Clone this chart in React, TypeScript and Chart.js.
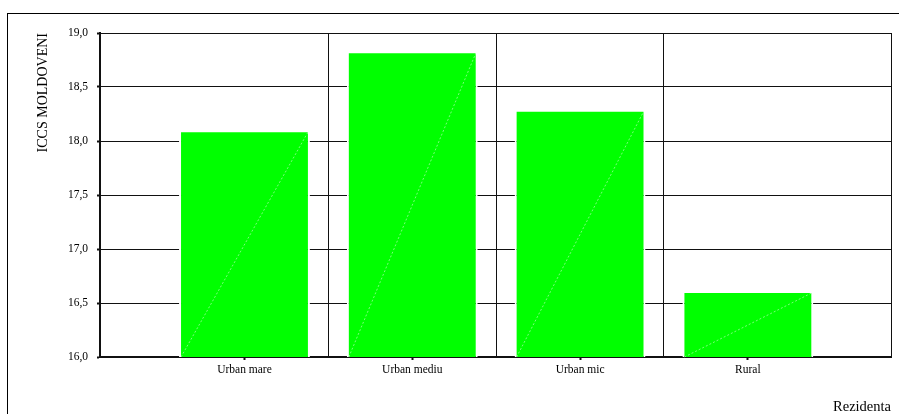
import React, { useEffect, useRef } from "react";
import { Chart, registerables } from "chart.js";

Chart.register(...registerables);

const categories = ["Urban mare", "Urban mediu", "Urban mic", "Rural"];
const values = [18.1, 18.83, 18.29, 16.61];
const yTicks = [16.0, 16.5, 17.0, 17.5, 18.0, 18.5, 19.0];
const yTitle = "ICCS MOLDOVENI";
const xTitle = "Rezidenta";

const FONT = "'Liberation Serif', 'Times New Roman', serif";
const X_MIN = -0.861;
const X_MAX = 3.853;

const diagonalPlugin = {
  id: "barDiagonal",
  afterDatasetsDraw(chart: any) {
    const ctx = chart.ctx;
    const meta = chart.getDatasetMeta(0);
    const bottom = chart.scales.y.getPixelForValue(yTicks[0]);
    ctx.save();
    ctx.strokeStyle = "rgba(255,255,255,0.6)";
    ctx.lineWidth = 0.8;
    ctx.setLineDash([2, 2]);
    meta.data.forEach((el: any) => {
      const left = el.x - el.width / 2 + 2;
      const right = el.x + el.width / 2 - 2;
      ctx.beginPath();
      ctx.moveTo(left, bottom);
      ctx.lineTo(right, el.y + 2);
      ctx.stroke();
    });
    ctx.restore();
  },
};

export default function App() {
  const ref = useRef<HTMLCanvasElement | null>(null);

  useEffect(() => {
    if (!ref.current) return;
    const isInt = (v: number) => Math.abs(v - Math.round(v)) < 1e-6 && v >= 0 && v <= categories.length - 1;
    const isSep = (v: number) => Math.abs(v - Math.round(v - 0.5) - 0.5) < 1e-6 || Math.abs(v - X_MAX) < 1e-6;
    const chart = new Chart(ref.current, {
      type: "bar",
      data: {
        datasets: [
          {
            data: values.map((v, i) => ({ x: i, y: v })),
            backgroundColor: "#00ff00",
            borderColor: "#ffffff",
            borderWidth: 2,
            categoryPercentage: 2,
            barPercentage: 0.78,
          },
        ],
      },
      options: {
        animation: false,
        responsive: false,
        devicePixelRatio: 1,
        layout: { padding: { left: 30, top: 33, right: 8, bottom: 0 } },
        plugins: { legend: { display: false }, tooltip: { enabled: false } },
        scales: {
          x: {
            type: "linear",
            offset: false,
            min: X_MIN,
            max: X_MAX,
            afterBuildTicks: (scale: any) => {
              const t: any[] = [{ value: X_MIN }];
              categories.forEach((_, i) => {
                t.push({ value: i });
                if (i < categories.length - 1) t.push({ value: i + 0.5 });
              });
              t.push({ value: X_MAX });
              scale.ticks = t;
            },
            afterFit: (scale: any) => {
              scale.height = 57;
            },
            ticks: {
              autoSkip: false,
              maxRotation: 0,
              padding: 3,
              color: "#000",
              font: { family: FONT, size: 11.5 },
              callback: (v: any) => (isInt(Number(v)) ? categories[Math.round(Number(v))] : ""),
            },
            grid: {
              offset: false,
              color: (c: any) => (c.tick && isSep(c.tick.value) ? "#111" : "rgba(0,0,0,0)"),
              tickColor: (c: any) => (c.tick && isInt(c.tick.value) ? "#111" : "rgba(0,0,0,0)"),
              lineWidth: 1,
              tickLength: 3,
              tickWidth: 2,
            },
            border: { display: true, color: "#111", width: 2 },
            title: {
              display: true,
              text: xTitle,
              align: "end",
              color: "#000",
              font: { family: FONT, size: 14.5, lineHeight: 1 },
              padding: { top: 0, bottom: 0 },
            },
          },
          y: {
            type: "linear",
            min: yTicks[0],
            max: yTicks[yTicks.length - 1],
            afterBuildTicks: (scale: any) => {
              scale.ticks = yTicks.map((v) => ({ value: v }));
            },
            afterFit: (scale: any) => {
              scale.width = 70;
            },
            ticks: {
              padding: 9,
              color: "#000",
              font: { family: FONT, size: 11.5 },
              callback: (v: any) => Number(v).toFixed(1).replace(".", ","),
            },
            grid: {
              color: "#111",
              lineWidth: 1,
              tickLength: 3,
              tickWidth: 2,
            },
            border: { display: true, color: "#111", width: 2 },
            title: {
              display: true,
              text: yTitle,
              align: "end",
              color: "#000",
              font: { family: FONT, size: 14, lineHeight: 1.2 },
              padding: { top: 5, bottom: 0 },
            },
          },
        },
      } as any,
      plugins: [diagonalPlugin],
    });
    return () => chart.destroy();
  }, []);

  return (
    <div style={{ position: "fixed", left: 0, top: 0, width: 899, height: 414, overflow: "hidden", background: "#fff" }}>
      <div
        style={{
          position: "absolute",
          left: 7,
          top: 13,
          width: 1000,
          height: 1000,
          borderLeft: "1px solid #000",
          borderTop: "1px solid #000",
        }}
      />
      <canvas ref={ref} width={899} height={414} style={{ position: "absolute", left: 0, top: 0, width: 899, height: 414 }} />
    </div>
  );
}
